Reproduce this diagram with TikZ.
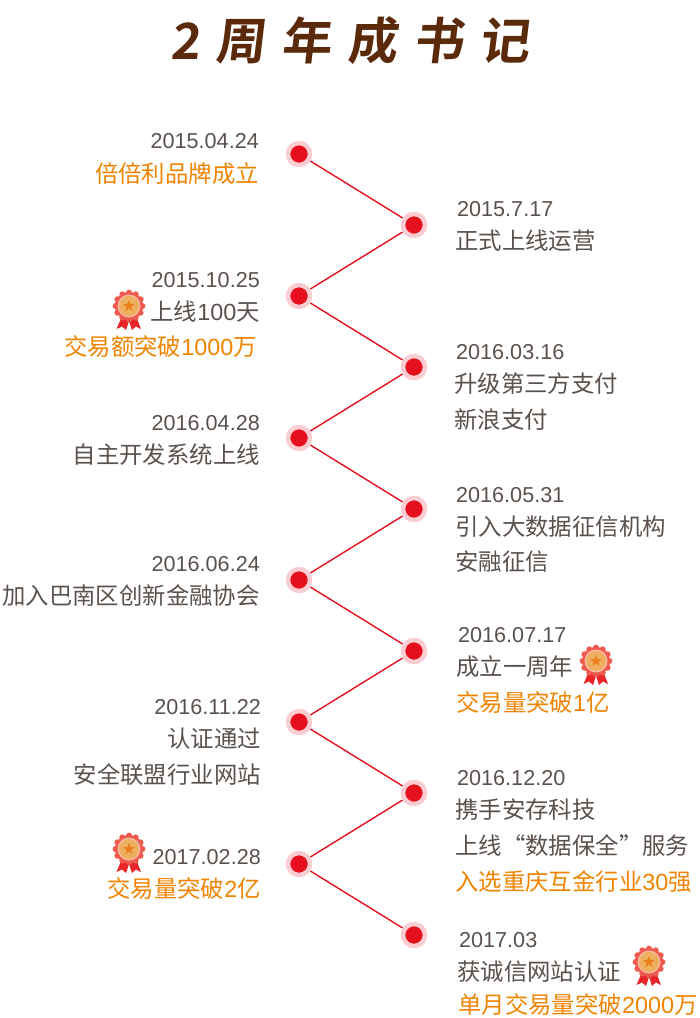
\documentclass[tikz,border=0pt]{standalone}
\usepackage{fontspec}
\setmainfont{Liberation Sans}
\newfontfamily\cjkfont{Noto Sans CJK SC}
\newfontfamily\titlefont[FakeSlant=0.12]{Noto Sans CJK SC Bold}
\newcommand{\zh}[1]{{\cjkfont #1}}
\definecolor{txtgrey}{HTML}{5A514C}
\definecolor{txtorange}{HTML}{F08300}
\definecolor{titlebrown}{HTML}{5A2A0A}
\definecolor{dotred}{HTML}{E60F1E}
\definecolor{dotpink}{HTML}{FBCDD2}
\definecolor{medalred}{HTML}{EE5A4E}
\definecolor{medalring}{HTML}{F9B9A0}
\definecolor{medalgold}{HTML}{EEB060}
\definecolor{medalstar}{HTML}{EE7F1F}
\definecolor{ribbonred}{HTML}{E8262A}
\tikzset{
  dot/.style={circle, fill=dotred, draw=dotpink, line width=4.5pt,
    minimum size=22pt, inner sep=0pt, outer sep=2.5pt},
  link/.style={draw=dotred, line width=1.4pt},
  greytxt/.style={inner sep=0pt, text=txtgrey, font=\fontsize{23.4}{28}\selectfont},
  datetxt/.style={greytxt, font=\fontsize{21.6}{26}\selectfont},
  oratxt/.style={greytxt, text=txtorange},
  ltxt/.style={anchor=base east, xshift=1pt, yshift=-0.5pt},
  rtxt/.style={anchor=base west, yshift=-0.5pt},
  medal/.pic={
    \fill[ribbonred] (-7,10) -- (-12.5,23) -- (-7,20.5) -- (-3,24) -- (1,12) -- cycle;
    \fill[ribbonred] (7,10) -- (12,23) -- (7,20.5) -- (3,24) -- (-1,12) -- cycle;
    \foreach \a in {0,30,...,330} {
      \fill[medalred] (\a:13.3) circle (3.1);
    }
    \fill[medalred] (0,0) circle (14);
    \fill[medalring] (0,0) circle (11.5);
    \fill[medalgold] (0,0) circle (10);
    \fill[medalstar] (270:6) -- (306:2.6) -- (342:6) -- (18:2.6) -- (54:6) -- (90:2.6)
      -- (126:6) -- (162:2.6) -- (198:6) -- (234:2.6) -- cycle;
  }
}

\begin{document}
\begin{tikzpicture}[x=1pt, y=-1pt]

  \useasboundingbox (0,0) rectangle (700,1018);

  \node [inner sep=0pt, text=titlebrown, font=\titlefont\fontsize{50}{54}\selectfont] (title) at (350,41)
    {2\hspace{15pt}周\hspace{16pt}年\hspace{16pt}成\hspace{16pt}书\hspace{16pt}记};

  \foreach \i/\x/\y in {1/299/154, 2/414/225, 3/299/296, 4/414/367, 5/299/438, 6/414/509,
    7/299/580, 8/414/651, 9/299/722, 10/414/793, 11/299/864, 12/414/935} {
    \node [dot] (dot\i) at (\x,\y) {};
  }

  \foreach \i/\j in {1/2,2/3,3/4,4/5,5/6,6/7,7/8,8/9,9/10,10/11,11/12} {
    \draw [link] (dot\i) -- (dot\j);
  }

  % left column
  \node [datetxt, ltxt] (lb1_dt) at (258,148) {2015.04.24};
  \node [oratxt, ltxt] (lb1_a) at (258,182) {\zh{倍倍利品牌成立}};

  \node [datetxt, ltxt] (lb3_dt) at (259,287) {2015.10.25};
  \node [greytxt, ltxt] (lb3_a) at (259,320) {\zh{上线}100\zh{天}};
  \node [oratxt, ltxt] (lb3_b) at (256,355) {\zh{交易额突破}1000\zh{万}};

  \node [datetxt, ltxt] (lb5_dt) at (259,430) {2016.04.28};
  \node [greytxt, ltxt] (lb5_a) at (259,463) {\zh{自主开发系统上线}};

  \node [datetxt, ltxt] (lb7_dt) at (259,571) {2016.06.24};
  \node [greytxt, ltxt] (lb7_a) at (259,604) {\zh{加入巴南区创新金融协会}};

  \node [datetxt, ltxt] (lb9_dt) at (260,714) {2016.11.22};
  \node [greytxt, ltxt] (lb9_a) at (260,747) {\zh{认证通过}};
  \node [greytxt, ltxt] (lb9_b) at (260,783) {\zh{安全联盟行业网站}};

  \node [datetxt, ltxt] (lb11_dt) at (260,864) {2017.02.28};
  \node [oratxt, ltxt] (lb11_a) at (260,897) {\zh{交易量突破}2\zh{亿}};

  % right column
  \node [datetxt, rtxt] (lb2_dt) at (457,216) {2015.7.17};
  \node [greytxt, rtxt] (lb2_a) at (455,249) {\zh{正式上线运营}};

  \node [datetxt, rtxt] (lb4_dt) at (456,359) {2016.03.16};
  \node [greytxt, rtxt] (lb4_a) at (454,392) {\zh{升级第三方支付}};
  \node [greytxt, rtxt] (lb4_b) at (454,428) {\zh{新浪支付}};

  \node [datetxt, rtxt] (lb6_dt) at (456,502) {2016.05.31};
  \node [greytxt, rtxt] (lb6_a) at (455,535) {\zh{引入大数据征信机构}};
  \node [greytxt, rtxt] (lb6_b) at (455,570) {\zh{安融征信}};

  \node [datetxt, rtxt] (lb8_dt) at (458,642) {2016.07.17};
  \node [greytxt, rtxt] (lb8_a) at (456,675) {\zh{成立一周年}};
  \node [oratxt, rtxt] (lb8_b) at (456,711) {\zh{交易量突破}1\zh{亿}};

  \node [datetxt, rtxt] (lb10_dt) at (457,785) {2016.12.20};
  \node [greytxt, rtxt] (lb10_a) at (455,818) {\zh{携手安存科技}};
  \node [greytxt, rtxt] (lb10_b) at (455,854) {\zh{上线“数据保全”服务}};
  \node [oratxt, rtxt] (lb10_c) at (455,890) {\zh{入选重庆互金行业}30\zh{强}};

  \node [datetxt, rtxt] (lb12_dt) at (459,947) {2017.03};
  \node [greytxt, rtxt] (lb12_a) at (457,980) {\zh{获诚信网站认证}};
  \node [oratxt, rtxt] (lb12_b) at (458,1013) {\zh{单月交易量突破}2000\zh{万}};

  \pic at (129,306) {medal};
  \pic at (596,661) {medal};
  \pic at (129,849) {medal};
  \pic at (649,962) {medal};

\end{tikzpicture}
\end{document}
